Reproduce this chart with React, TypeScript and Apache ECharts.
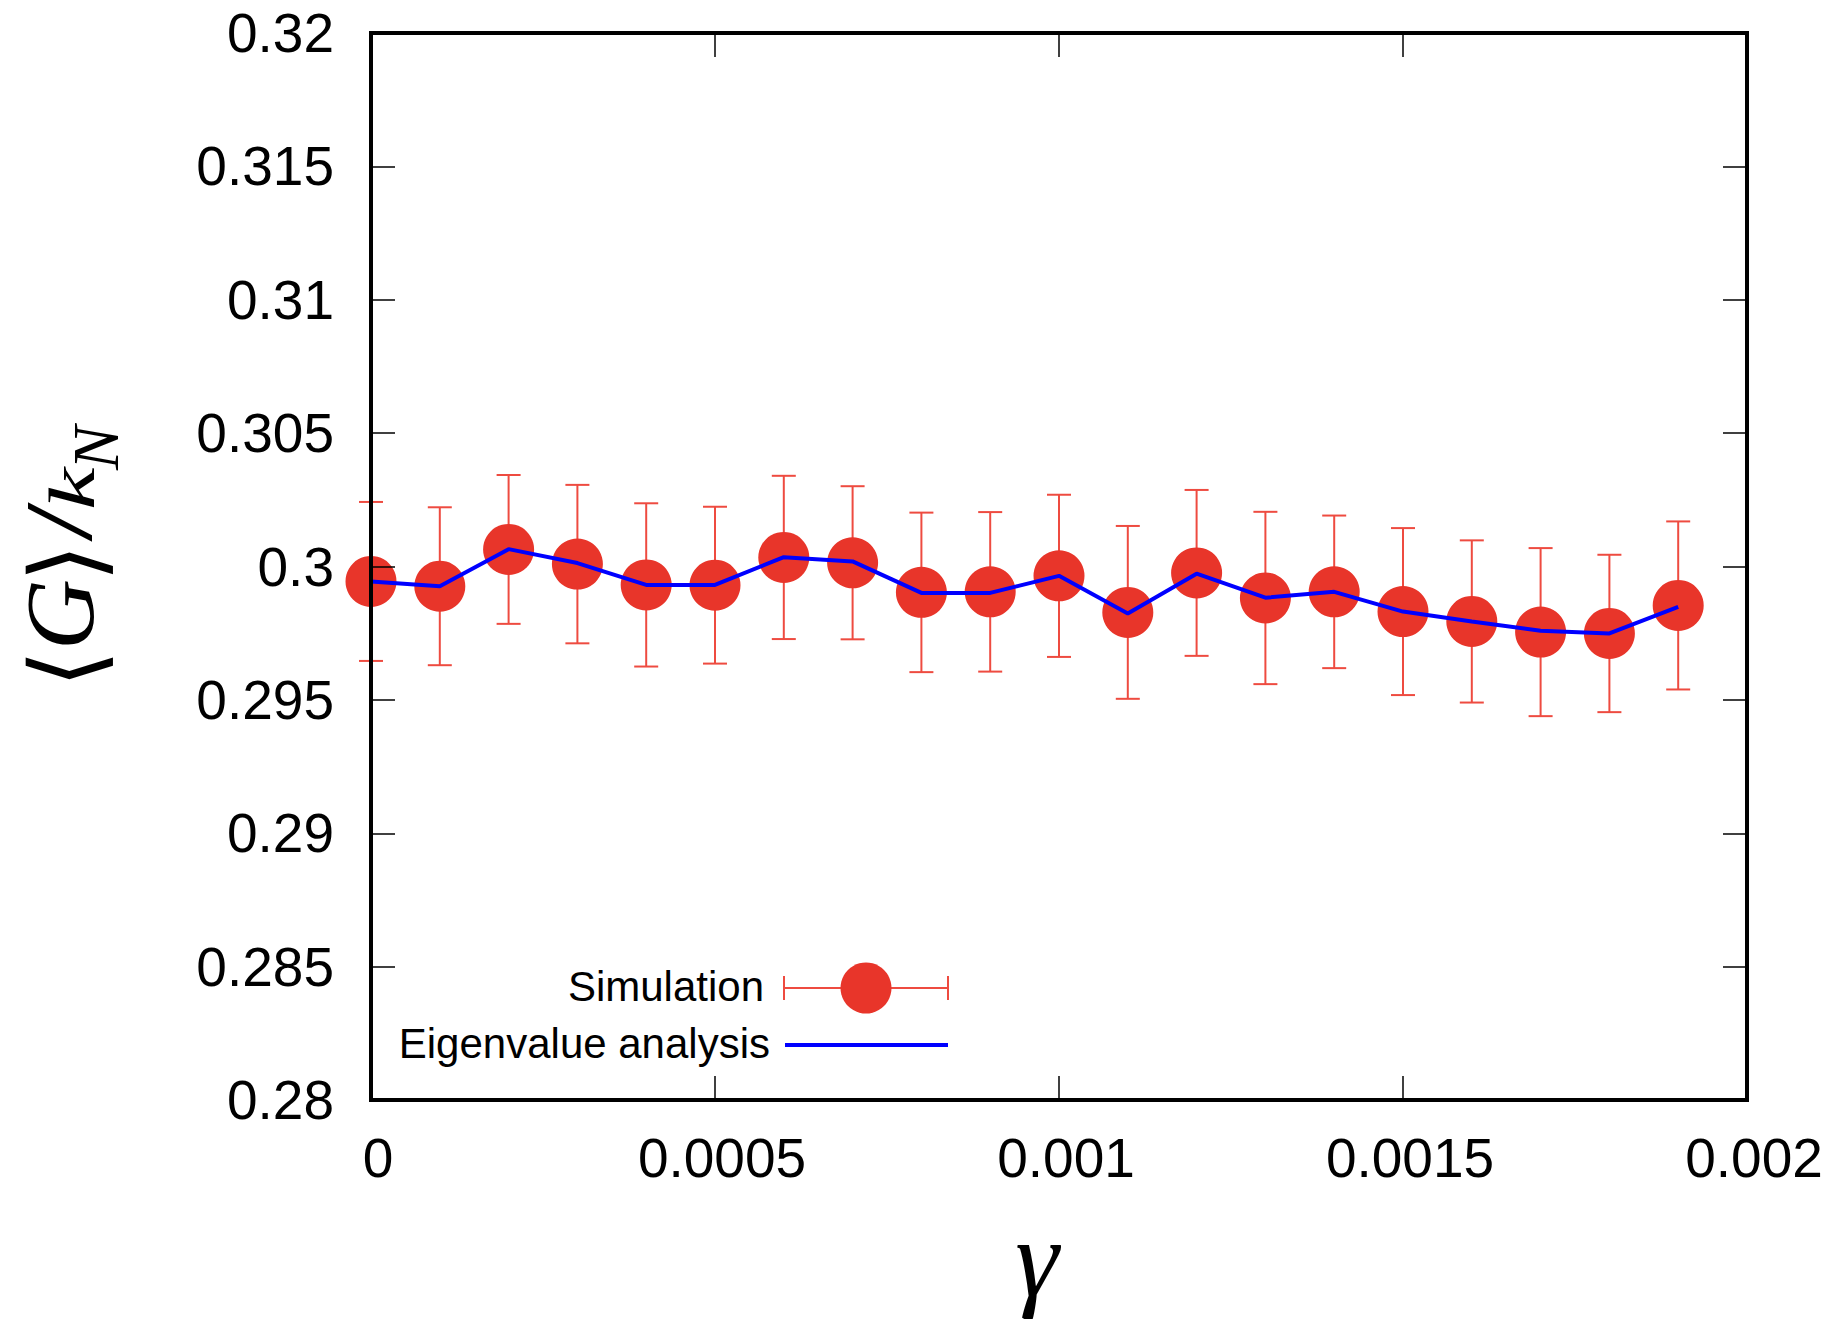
import React, { useEffect, useRef } from "react";
import * as echarts from "echarts";

// ---------- data ----------
const gammaValues = [
  0, 0.0001, 0.0002, 0.0003, 0.0004, 0.0005, 0.0006, 0.0007, 0.0008, 0.0009,
  0.001, 0.0011, 0.0012, 0.0013, 0.0014, 0.0015, 0.0016, 0.0017, 0.0018, 0.0019,
];
const simulationMeans = [
  0.29944, 0.29926, 0.30064, 0.30009, 0.29931, 0.2993, 0.30034, 0.30014, 0.29903, 0.29905,
  0.29965, 0.29828, 0.29976, 0.29882, 0.29905, 0.29831, 0.29794, 0.29754, 0.29749, 0.29854,
];
const simulationErrors = [
  0.00298, 0.00296, 0.00279, 0.00297, 0.00306, 0.00294, 0.00306, 0.00287, 0.00299, 0.00299,
  0.00304, 0.00324, 0.00311, 0.00323, 0.00286, 0.00313, 0.00304, 0.00315, 0.00295, 0.00315,
];
const eigenvalueValues = [
  0.29944, 0.29926, 0.30065, 0.30013, 0.29931, 0.29931, 0.30035, 0.30019, 0.29901, 0.29901,
  0.29965, 0.29824, 0.29973, 0.29883, 0.29905, 0.29831, 0.29794, 0.29759, 0.29749, 0.29849,
];
const xRange = [0, 0.002];
const xTickStep = 0.0005;
const yRange = [0.28, 0.32];
const yTickStep = 0.005;
const legendLabels = ["Simulation", "Eigenvalue analysis"];
const xTitle = "γ";
const yTitleParts = ["⟨", "G", "⟩", "/", "k", "N"];

// ---------- styles ----------
const SANS = '"Liberation Sans", Arial, Helvetica, sans-serif';
const SERIF = '"Liberation Serif", "DejaVu Serif", serif';
const RED = "#e8352a";
const ERR_RED = "#ee4b40";
const BLUE = "#0000ff";

export default function App() {
  const ref = useRef<HTMLDivElement>(null);

  useEffect(() => {
    if (!ref.current) return;
    const chart = echarts.init(ref.current, undefined, { renderer: "svg" });

    const errData = gammaValues.map((g, i) => [
      g,
      simulationMeans[i] - simulationErrors[i],
      simulationMeans[i] + simulationErrors[i],
    ]);
    const simData = gammaValues.map((g, i) => [g, simulationMeans[i]]);
    const eigData = gammaValues.map((g, i) => [g, eigenvalueValues[i]]);

    const tickStyle = { show: true, inside: true, length: 24, lineStyle: { color: "#000", width: 1.5 } };
    const lineStyleAxis = { show: true, onZero: false, lineStyle: { color: "#000", width: 4 } };

    const xBase = {
      type: "value" as const,
      min: xRange[0],
      max: xRange[1],
      interval: xTickStep,
      splitLine: { show: false },
      axisLine: lineStyleAxis,
      axisTick: tickStyle,
      z: 10,
    };
    const yBase = {
      type: "value" as const,
      min: yRange[0],
      max: yRange[1],
      interval: yTickStep,
      splitLine: { show: false },
      axisLine: lineStyleAxis,
      axisTick: tickStyle,
      z: 10,
    };

    const rotText = (text: string, x: number, y: number, font: string, va: string, scaleX = 1) => ({
      type: "text",
      x,
      y,
      rotation: Math.PI / 2,
      scaleX,
      z: 100,
      silent: true,
      style: {
        text,
        font,
        fill: "#000",
        align: "left",
        verticalAlign: va,
        textAlign: "left",
        textVerticalAlign: va,
      },
    });

    const capHalf = 12;

    const option: any = {
      animation: false,
      backgroundColor: "#fff",
      grid: {
        left: 371,
        top: 33,
        right: 90,
        bottom: 224,
        show: true,
        borderColor: "#000",
        borderWidth: 4,
        backgroundColor: "transparent",
      },
      xAxis: [
        {
          ...xBase,
          position: "bottom",
          axisLabel: {
            show: true,
            margin: 30,
            fontSize: 55,
            fontFamily: SANS,
            color: "#000",
            padding: [0, 0, 0, 14],
            formatter: (v: number) => String(+v.toFixed(5)),
          },
        },
        { ...xBase, position: "top", axisLabel: { show: false } },
      ],
      yAxis: [
        {
          ...yBase,
          position: "left",
          axisLabel: {
            show: true,
            margin: 37,
            fontSize: 55,
            fontFamily: SANS,
            color: "#000",
            formatter: (v: number) => String(+v.toFixed(4)),
          },
        },
        { ...yBase, position: "right", axisLabel: { show: false } },
      ],
      series: [
        {
          type: "custom",
          name: "Simulation error",
          z: 2,
          silent: true,
          clip: false,
          data: errData,
          encode: { x: 0, y: [1, 2] },
          renderItem: (_params: any, api: any) => {
            const x = api.value(0);
            const lo = api.coord([x, api.value(1)]);
            const hi = api.coord([x, api.value(2)]);
            const style = { stroke: ERR_RED, lineWidth: 2, fill: null };
            return {
              type: "group",
              children: [
                { type: "line", shape: { x1: lo[0], y1: lo[1], x2: hi[0], y2: hi[1] }, style },
                { type: "line", shape: { x1: lo[0] - capHalf, y1: lo[1], x2: lo[0] + capHalf, y2: lo[1] }, style },
                { type: "line", shape: { x1: hi[0] - capHalf, y1: hi[1], x2: hi[0] + capHalf, y2: hi[1] }, style },
              ],
            };
          },
        },
        {
          type: "scatter",
          name: legendLabels[0],
          data: simData,
          symbol: "circle",
          symbolSize: 51,
          itemStyle: { color: RED, opacity: 1 },
          z: 3,
          clip: false,
          silent: true,
        },
        {
          type: "line",
          name: legendLabels[1],
          data: eigData,
          symbol: "none",
          lineStyle: { color: BLUE, width: 4 },
          z: 4,
          clip: false,
          silent: true,
        },
      ],
      graphic: [
        // legend
        {
          type: "text",
          z: 100,
          silent: true,
          style: {
            text: legendLabels[0],
            x: 764,
            y: 986,
            font: `42px ${SANS}`,
            fill: "#000",
            align: "right",
            verticalAlign: "middle",
            textAlign: "right",
            textVerticalAlign: "middle",
          },
        },
        {
          type: "text",
          z: 100,
          silent: true,
          style: {
            text: legendLabels[1],
            x: 770,
            y: 1043,
            font: `42px ${SANS}`,
            fill: "#000",
            align: "right",
            verticalAlign: "middle",
            textAlign: "right",
            textVerticalAlign: "middle",
          },
        },
        { type: "line", z: 100, silent: true, shape: { x1: 784, y1: 988, x2: 948, y2: 988 }, style: { stroke: ERR_RED, lineWidth: 2 } },
        { type: "line", z: 100, silent: true, shape: { x1: 784, y1: 976, x2: 784, y2: 1000 }, style: { stroke: ERR_RED, lineWidth: 2 } },
        { type: "line", z: 100, silent: true, shape: { x1: 948, y1: 976, x2: 948, y2: 1000 }, style: { stroke: ERR_RED, lineWidth: 2 } },
        { type: "circle", z: 101, silent: true, shape: { cx: 866, cy: 988, r: 25.5 }, style: { fill: RED } },
        { type: "line", z: 100, silent: true, shape: { x1: 785, y1: 1045, x2: 948, y2: 1045 }, style: { stroke: BLUE, lineWidth: 4 } },
        // x title
        {
          type: "text",
          z: 100,
          silent: true,
          style: {
            text: xTitle,
            x: 1037,
            y: 1259,
            font: `italic 110px ${SERIF}`,
            fill: "#000",
            align: "center",
            verticalAlign: "middle",
            textAlign: "center",
            textVerticalAlign: "middle",
          },
        },
        // y title pieces (reading bottom to top)
        rotText(yTitleParts[0], 67, 688, `98px ${SERIF}`, "middle"),
        rotText(yTitleParts[1], 109, 650, `italic 98px ${SERIF}`, "bottom"),
        rotText(yTitleParts[2], 67, 582, `98px ${SERIF}`, "middle"),
        rotText(yTitleParts[3], 106, 536, `italic bold 95px ${SERIF}`, "bottom"),
        rotText(yTitleParts[4], 105, 510, `italic 66px ${SERIF}`, "bottom", 1.45),
        rotText(yTitleParts[5], 128, 470, `italic 66px ${SERIF}`, "bottom"),
      ],
    };

    chart.setOption(option);
    return () => chart.dispose();
  }, []);

  return (
    <div
      ref={ref}
      style={{ position: "absolute", left: 0, top: 0, width: 1837, height: 1324 }}
    />
  );
}
